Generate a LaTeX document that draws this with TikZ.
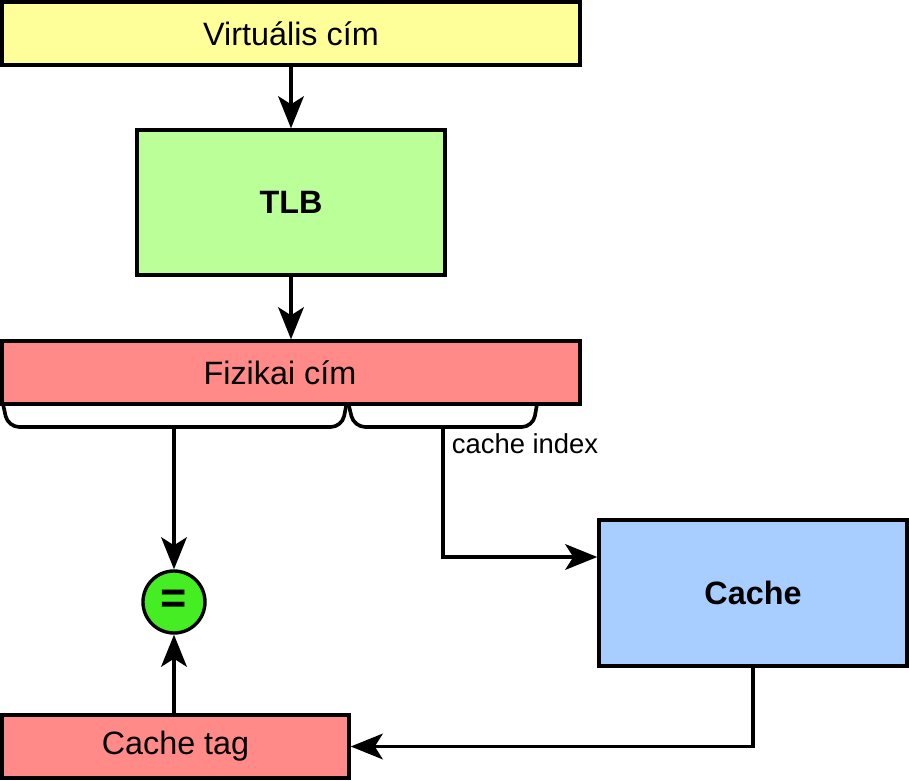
\documentclass[tikz,border=0pt]{standalone}
\usepackage{fontspec}
\setmainfont{Liberation Sans}
\usepackage{tikz}
\usetikzlibrary{arrows.meta}

\definecolor{virtcol}{HTML}{FFFF99}
\definecolor{tlbcol}{HTML}{BBFF99}
\definecolor{physcol}{HTML}{FF8A88}
\definecolor{cachecol}{HTML}{A8CEFF}
\definecolor{eqcol}{HTML}{44EE22}

\tikzset{
  box/.style={draw, line width=2.4pt, inner sep=0pt, font=\fontsize{23}{27}\selectfont},
  arr/.style={line width=2.6pt, -{Stealth[length=0.8cm, width=0.64cm, inset=0.2cm]}},
  bkt/.style={line width=2.6pt, rounded corners=0.28cm},
}

\begin{document}
\begin{tikzpicture}[x=0.025cm, y=-0.025cm]
          \useasboundingbox (0,0) rectangle (909,781);
          % virtual address
          \node[box, fill=virtcol, minimum width=14.45cm, minimum height=1.575cm] (virt) at (291,33.5) {Virtuális cím};
          % tlb
          \node[box, fill=tlbcol, minimum width=7.7cm, minimum height=3.625cm] (tlb) at (291,202.5) {\textbf{TLB}};
          % physical address
          \node[box, fill=physcol, minimum width=14.45cm, minimum height=1.575cm] (fiz) at (291,372.5) {\hspace*{-0.55cm}Fizikai cím};
          % cache
          \node[box, fill=cachecol, minimum width=7.7cm, minimum height=3.65cm] (cache) at (753,593) {\textbf{Cache}};
          % cache tag
          \node[box, fill=physcol, minimum width=8.675cm, minimum height=1.575cm] (ctag) at (175.5,746.5) {Cache tag};
          % comparator
          \node[box, circle, fill=eqcol, minimum size=1.55cm, font=\fontsize{32}{32}\selectfont\bfseries] (eq) at (174,602) {=};
          % brackets under the physical address
          \draw[bkt] (3,404) -- (8,427) -- (342,427) -- (346.5,404);
          \draw[bkt] (348.5,404) -- (354,427) -- (533,427) -- (537,404);
          \coordinate (tagtip) at (174,427);
          \coordinate (idxtip) at (443,427);
          \coordinate (bend) at (443,557);
          % lines between the boxes
          \draw[arr] (virt) -- (tlb);
          \draw[arr] (tlb) -- (fiz);
          \draw[arr] (tagtip) -- (eq);
          \draw[arr] (idxtip) -- (bend) node[pos=0.13, right, inner sep=5pt, font=\fontsize{19.5}{22}\selectfont] {cache index} -- (bend -| cache.west);
          \draw[arr] (cache.south) |- (ctag.east);
          \draw[arr] (ctag.north -| eq) -- (eq);
        \end{tikzpicture}
\end{document}
